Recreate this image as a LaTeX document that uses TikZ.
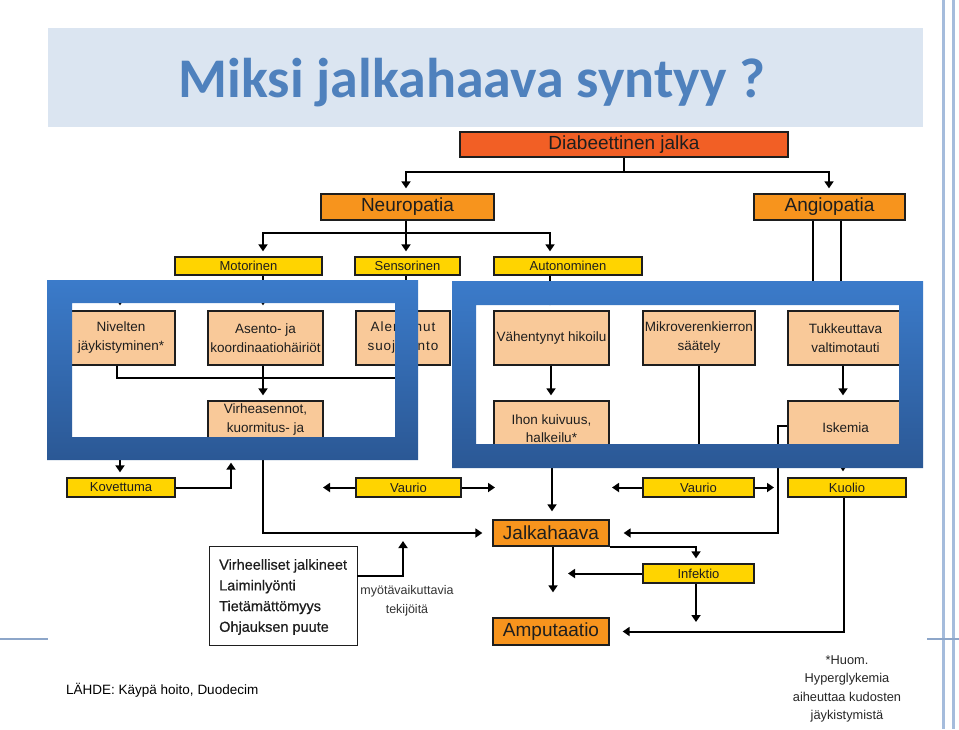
\documentclass[tikz,border=0pt]{standalone}
\usepackage{fontspec}
\setmainfont{Liberation Sans}
\newfontfamily\titlefnt{Carlito}
\newfontfamily\spacedfnt[LetterSpace=7]{Liberation Sans}
\newfontfamily\boldishfnt[FakeBold=0.6]{Liberation Sans}
\usetikzlibrary{arrows.meta}
\definecolor{titlebg}{HTML}{DBE5F1}
\definecolor{titlec}{HTML}{4F81BD}
\definecolor{redorg}{HTML}{F25F25}
\definecolor{org}{HTML}{F7941D}
\definecolor{yel}{HTML}{FFD400}
\definecolor{peach}{HTML}{F9C999}
\definecolor{frtop}{HTML}{3B7BCA}
\definecolor{frbot}{HTML}{2B5895}
\definecolor{boxline}{HTML}{1E1E1E}
\definecolor{txt}{HTML}{1E1E1E}
\definecolor{sideln}{HTML}{A5BCDC}
\definecolor{sidetick}{HTML}{8DA6C9}
\begin{document}
\begin{tikzpicture}[x=1pt,y=-1pt,
  font=\fontsize{13.5}{17}\selectfont,
  box/.style={draw=boxline, line width=1.3pt, inner sep=0pt, align=center, text=txt},
  ybox/.style={box, fill=yel, font=\fontsize{13}{15}\selectfont},
  obox/.style={box, fill=org, font=\fontsize{19}{22}\selectfont},
  pbox/.style={box, fill=peach, font=\fontsize{13.5}{19}\selectfont},
  lbl/.style={align=center, text=txt, inner sep=0pt, font=\fontsize{13.5}{18.5}\selectfont},
  ln/.style={line width=2pt, draw=black},
  arr/.style={ln, -{Triangle[width=9pt,length=7pt]}, shorten >=5pt},
  ring/.style={top color=frtop, bottom color=frbot}
]
\useasboundingbox (0,0) rectangle (959,729);
\fill[white] (0,0) rectangle (959,729);

% title
\fill[titlebg] (48,28) rectangle (923,127);
\node[anchor=base, text=titlec, inner sep=0pt, font=\titlefnt\bfseries\fontsize{56}{60}\selectfont] (title) at (472,97) {Miksi jalkahaava syntyy ?};

% top boxes
\node[box, fill=redorg, font=\fontsize{19}{22}\selectfont, minimum width=328pt, minimum height=25pt] (diab) at (624,144.5) {Diabeettinen jalka};
\node[obox, minimum width=173pt, minimum height=26pt] (neuro) at (407.5,207) {Neuropatia};
\node[obox, minimum width=151pt, minimum height=26pt] (angio) at (829.5,207) {Angiopatia};
\node[ybox, minimum width=147pt, minimum height=18pt] (motor) at (248.5,266) {Motorinen};
\node[ybox, minimum width=105pt, minimum height=18pt] (senso) at (407.5,266) {Sensorinen};
\node[ybox, minimum width=148pt, minimum height=18pt] (auto) at (568,266) {Autonominen};

% middle boxes
\node[pbox, minimum width=108pt, minimum height=54pt] (nivel) at (121,338) {Nivelten\\jäykistyminen*};
\node[pbox, minimum width=115pt, minimum height=54pt] (asento) at (265.5,338) {Asento- ja\\koordinaatiohäiriöt};
\node[pbox, minimum width=94pt, minimum height=54pt, font=\spacedfnt\fontsize{13.5}{19}\selectfont] (alent) at (403,338) {Alentunut\\suojatunto};
\node[pbox, minimum width=115pt, minimum height=54pt] (virh) at (265.5,428) {};
\node[lbl] (virhT) at (265.5,419.5) {Virheasennot,\\kuormitus- ja};
\node[pbox, minimum width=115pt, minimum height=54pt] (vahen) at (551.5,338) {Vähentynyt hikoilu};
\node[pbox, minimum width=112pt, minimum height=54pt] (mikro) at (699,338) {Mikroverenkierron\\säätely};
\node[pbox, minimum width=115pt, minimum height=54pt] (tukk) at (845.5,338) {Tukkeuttava\\valtimotauti};
\node[pbox, minimum width=115pt, minimum height=57pt] (ihon) at (551.5,429.5) {};
\node[lbl, font=\fontsize{13.5}{17.5}\selectfont] (ihonT) at (551.5,428.5) {Ihon kuivuus,\\halkeilu*};
\node[pbox, minimum width=115pt, minimum height=57pt] (iske) at (845.5,429.5) {};
\node[lbl] (iskeT) at (845.5,428) {Iskemia};

% lower boxes
\node[ybox, minimum width=108pt, minimum height=19pt] (kov) at (121,487.5) {Kovettuma};
\node[ybox, minimum width=105pt, minimum height=19pt] (vaur1) at (408.5,487.5) {Vaurio};
\node[ybox, minimum width=111pt, minimum height=19pt] (vaur2) at (698.5,487.5) {Vaurio};
\node[ybox, minimum width=118pt, minimum height=19pt] (kuol) at (847,487.5) {Kuolio};
\node[obox, minimum width=116pt, minimum height=26pt] (jalka) at (551,533) {Jalkahaava};
\node[ybox, minimum width=111pt, minimum height=19pt] (infe) at (698.5,573.5) {Infektio};
\node[obox, minimum width=116pt, minimum height=27pt] (amput) at (551,631.5) {Amputaatio};
\node[draw=boxline, line width=0.9pt, fill=white, minimum width=148pt, minimum height=99pt, inner sep=0pt] (fact) at (283,595.5) {};
\node[anchor=west, align=left, inner sep=0pt, text=txt, font=\boldishfnt\fontsize{14.5}{20.7}\selectfont] (factT) at (219,597) {Virheelliset jalkineet\\Laiminlyönti\\Tietämättömyys\\Ohjauksen puute};
\node[align=center, inner sep=0pt, text=black!80, font=\fontsize{12.5}{19}\selectfont] (myo) at (407,601) {myötävaikuttavia\\tekijöitä};

% connectors: top
\coordinate (d1) at (624,172);
\draw[ln] (diab.south) -- (d1);
\draw[arr] (d1) -| (neuro.north -| 406,0);
\draw[arr] (d1) -| (angio.north -| 829,0);
\coordinate (n1) at (406,233);
\draw[ln] (neuro.south -| 406,0) -- (n1);
\draw[arr] (n1) -| (motor.north -| 263,0);
\draw[arr] (n1) -- (senso.north -| 406,0);
\draw[arr] (n1) -| (auto.north -| 550,0);

% neuropathy branches
\coordinate (m1) at (263,294);
\draw[ln] (motor.south -| 263,0) -- (m1);
\draw[arr] (m1) -| (nivel.north -| 120,0);
\draw[arr] (m1) -- (asento.north -| 263,0);
\draw[arr] (senso.south -| 406,0) -- (alent.north -| 406,0);
\draw[arr] (auto.south -| 550,0) -- (vahen.north -| 550,0);
\coordinate (g1) at (813,300);
\coordinate (g2) at (841,300);
\draw[ln] (angio.south -| 813,0) -- (g1);
\draw[ln] (angio.south -| 841,0) -- (g2);

% left inner
\coordinate (c1) at (117,378);
\coordinate (c2) at (403,378);
\draw[ln] (nivel.south -| 117,0) -- (c1) -- (c2) -- (alent.south -| 403,0);
\draw[arr] (asento.south -| 263,0) -- (virh.north -| 263,0);
\coordinate (vk) at (208,450);
\draw[arr] (vk) -| (kov.north -| 120,0);
\draw[arr, shorten >=7pt] (kov.east) -| (virh.south -| 231,0);
\draw[arr, shorten >=10pt] (virh.south -| 263,0) |- (jalka.west);
\coordinate (v1l) at (323,487.5);
\coordinate (v1r) at (495,487.5);
\draw[arr, shorten >=0pt] (vaur1.west) -- (v1l);
\draw[arr, shorten >=0pt] (vaur1.east) -- (v1r);

% right inner
\draw[arr] (vahen.south -| 551,0) -- (ihon.north -| 551,0);
\draw[arr, shorten >=8pt] (ihon.south -| 552,0) -- (jalka.north -| 552,0);
\coordinate (mk) at (699,455);
\draw[ln] (mikro.south) -- (mk);
\draw[arr] (tukk.south -| 843,0) -- (iske.north -| 843,0);
\draw[arr, shorten >=6pt] (iske.south -| 843,0) -- (kuol.north -| 843,0);
\coordinate (v2l) at (612,487.5);
\coordinate (v2r) at (774,487.5);
\draw[arr, shorten >=0pt] (vaur2.west) -- (v2l);
\draw[arr, shorten >=0pt] (vaur2.east) -- (v2r);
\coordinate (k1) at (778,426);
\draw[arr, shorten >=14pt] (iske.west |- 0,426) -- (k1) |- (jalka.east);

% bottom
\draw[arr] (jalka.south east) -| (infe.north -| 696,0);
\coordinate (i1) at (568,573.5);
\draw[arr, shorten >=0pt] (infe.west) -- (i1);
\draw[arr, shorten >=25pt] (jalka.south -| 553,0) -- (amput.north -| 553,0);
\coordinate (i2) at (696,622);
\draw[arr, shorten >=0pt] (infe.south -| 696,0) -- (i2);
\draw[arr, shorten >=13pt] (kuol.south -| 844,0) |- (amput.east);
\coordinate (f1) at (403,541);
\draw[arr, shorten >=0pt] (fact.east |- 0,576) -| (f1);

% blue frames on top (outer path one way, inner hole the other way)
\shade[ring] (47,280) -- (418,280) -- (418,460) -- (47,460) -- cycle
  (72,303) -- (72,437) -- (395,437) -- (395,303) -- cycle;
\shade[ring] (452,281) -- (923,281) -- (923,468) -- (452,468) -- cycle
  (476,305) -- (476,444) -- (899,444) -- (899,305) -- cycle;

% notes
\node[anchor=west, inner sep=0pt, text=black, font=\fontsize{13.5}{16}\selectfont] (lahde) at (66,690) {LÄHDE: Käypä hoito, Duodecim};
\node[align=center, inner sep=0pt, text=black!85, font=\fontsize{12.8}{18.3}\selectfont] (huom) at (847,689) {*Huom.\\Hyperglykemia\\aiheuttaa kudosten\\jäykistymistä};

% slide decorations
\draw[sideln, line width=3pt] (943,0) -- (943,729);
\draw[sideln, line width=3pt] (953,0) -- (953,729);
\draw[sidetick, line width=2.5pt] (0,639) -- (48,639);
\draw[sidetick, line width=2.5pt] (927,639) -- (959,639);
\end{tikzpicture}
\end{document}
